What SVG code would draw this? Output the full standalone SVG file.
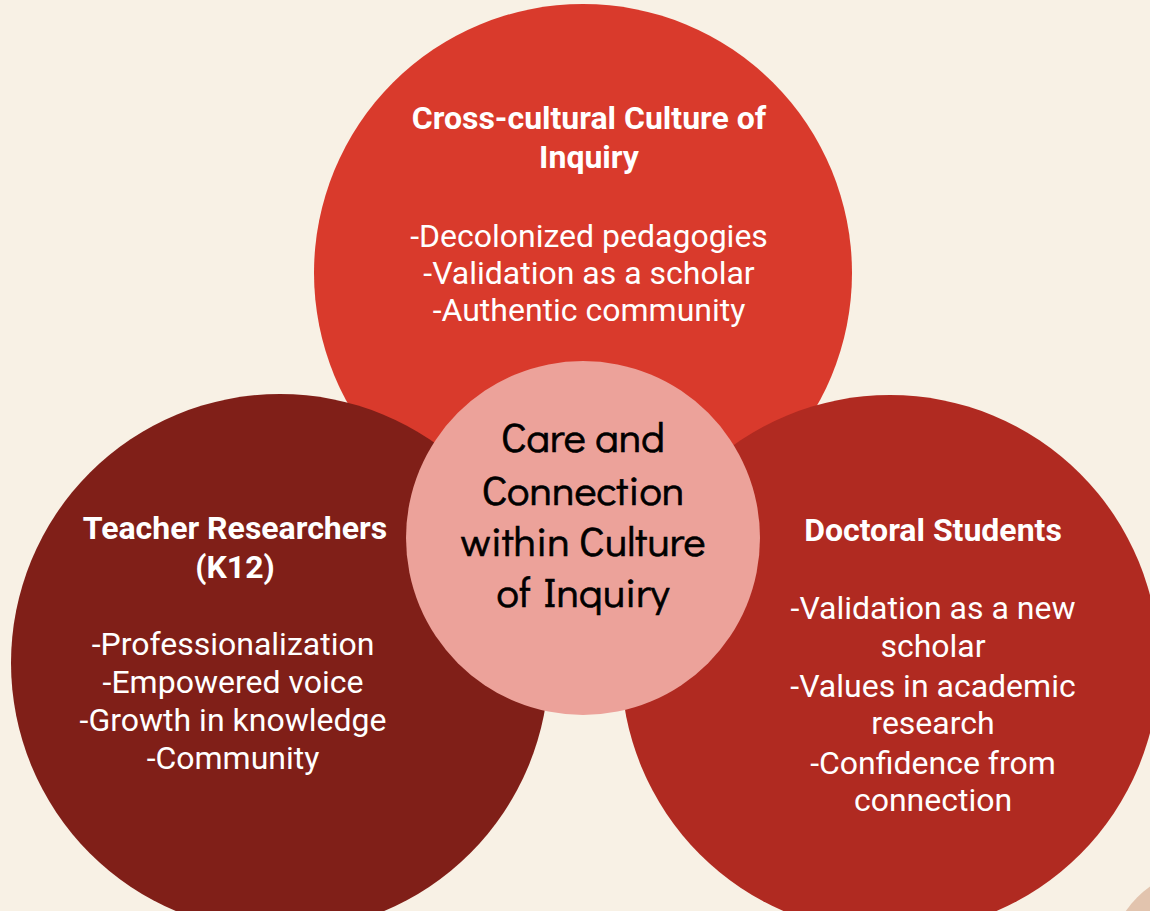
<svg xmlns="http://www.w3.org/2000/svg" width="1150" height="911" viewBox="0 0 1150 911">
<style>
.t{font-family:Roboto,"Liberation Sans",sans-serif;fill:#fff;text-anchor:middle}
.h{font-weight:700;font-size:32px}
.b{font-weight:400;font-size:32px}
.c{font-family:"Didact Gothic",Lato,"DejaVu Sans",sans-serif;font-size:42px;fill:#000;stroke:#000;stroke-width:0.7px;text-anchor:middle}
</style>
<rect width="1150" height="911" fill="#F8F1E5"/>
<circle cx="1208" cy="968" r="100" fill="#E2C4AE"/>
<g id="top">
<circle cx="583" cy="273" r="269" fill="#D93A2C"/>
<text class="t h" x="589" y="129">Cross-cultural Culture of</text>
<text class="t h" x="589" y="168">Inquiry</text>
<text class="t b" x="589" y="247">-Decolonized pedagogies</text>
<text class="t b" x="589" y="284">-Validation as a scholar</text>
<text class="t b" x="589" y="321">-Authentic community</text>
</g>
<g id="left">
<circle cx="280" cy="663" r="269" fill="#801F18"/>
<text class="t h" x="235" y="539">Teacher Researchers</text>
<text class="t h" x="235" y="578">(K12)</text>
<text class="t b" x="233" y="655">-Professionalization</text>
<text class="t b" x="233" y="693">-Empowered voice</text>
<text class="t b" x="233" y="731">-Growth in knowledge</text>
<text class="t b" x="233" y="769">-Community</text>
</g>
<g id="right">
<circle cx="890" cy="664" r="269" fill="#B02A21"/>
<text class="t h" x="933" y="541">Doctoral Students</text>
<text class="t b" x="933" y="619">-Validation as a new</text>
<text class="t b" x="933" y="657">scholar</text>
<text class="t b" x="933" y="697">-Values in academic</text>
<text class="t b" x="933" y="734">research</text>
<text class="t b" x="933" y="774">-Confidence from</text>
<text class="t b" x="933" y="811">connection</text>
</g>
<g id="center">
<circle cx="583" cy="538" r="177" fill="#ECA29A"/>
<text class="c" x="583" y="452">Care and</text>
<text class="c" x="583" y="505">Connection</text>
<text class="c" x="583" y="556">within Culture</text>
<text class="c" x="583" y="607" word-spacing="-5">of Inquiry</text>
</g>
<g id="connectors"/>
</svg>
